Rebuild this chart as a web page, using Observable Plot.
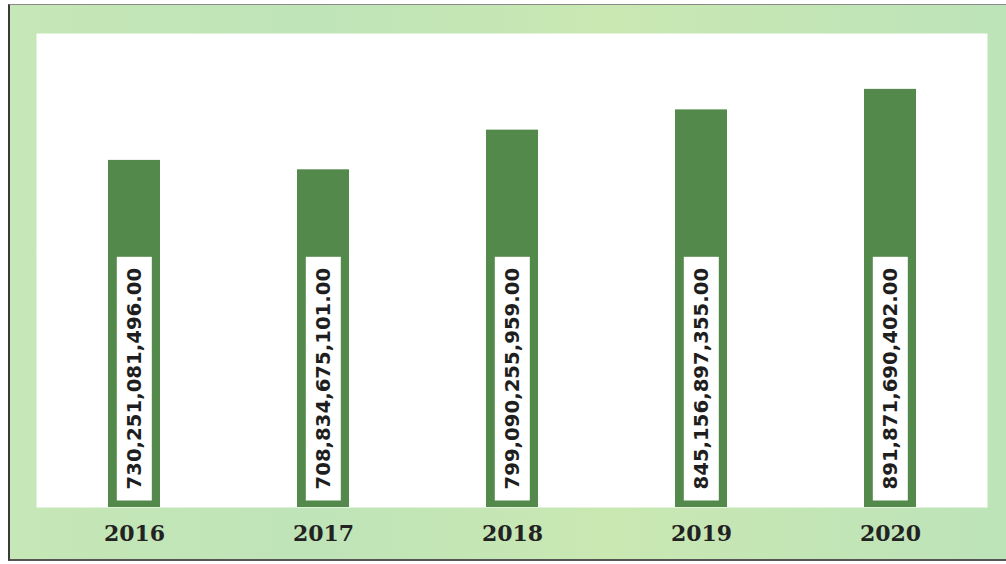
<!DOCTYPE html>
<html>
<head>
<meta charset="utf-8">
<script src="https://cdn.jsdelivr.net/npm/d3@7"></script>
<script src="https://cdn.jsdelivr.net/npm/@observablehq/plot@0.6"></script>
<style>
  html, body { margin: 0; padding: 0; background: #ffffff; }
  #wrap { position: relative; width: 1006px; height: 564px; overflow: hidden; }
  #bg {
    position: absolute; left: 8px; top: 4px; right: 0; bottom: 3px;
    background: linear-gradient(90deg, #c6e7b6 0%, #bfe4b8 30%, #c9e8b2 60%, #bde3b9 100%);
    border-left: 2px solid #3a3a3a; border-top: 1px solid #8a8a8a; border-bottom: 2px solid #555;
  }
  #chart { position: absolute; left: 0; top: 0; }
</style>
</head>
<body>
<div id="wrap"><div id="bg"></div><div id="chart"></div></div>
<script>
const years = ["2016", "2017", "2018", "2019", "2020"];
const values = [730251081496, 708834675101, 799090255959, 845156897355, 891871690402];
const yDomain = [-59.6e9, 1019e9];

const data = years.map((y, i) => ({year: y, value: values[i]}));
const fmt = d3.format(",.2f");

const chart = Plot.plot({
  width: 1006,
  height: 564,
  marginLeft: 36,
  marginRight: 19,
  marginTop: 33,
  marginBottom: 57,
  style: {background: "transparent", overflow: "visible"},
  x: {domain: years, paddingInner: 0.726, paddingOuter: 0.366, label: null},
  y: {domain: yDomain, axis: null},
  marks: [
    Plot.frame({fill: "#ffffff", stroke: "none"}),
    Plot.barY(data, {x: "year", y1: () => yDomain[0], y2: "value", fill: "#53894b"}),
    Plot.text(data, {
      x: "year", frameAnchor: "bottom", dy: -18,
      text: d => fmt(d.value), rotate: -90, textAnchor: "start", lineAnchor: "middle",
      fontSize: 19.7, fontWeight: "bold", fontFamily: "DejaVu Sans", fill: "#1e1e1e",
      className: "vlabel"
    }),
    Plot.axisX({
      tickSize: 0, tickPadding: 18, fontSize: 22, fontWeight: "bold",
      fontFamily: "DejaVu Serif", fill: "#222222", label: null
    })
  ]
});
document.getElementById("chart").appendChild(chart);

// white boxes behind rotated value labels
chart.querySelectorAll("g.vlabel text").forEach(t => {
  const b = t.getBBox();
  const padX = 11, padY = 6;
  const r = document.createElementNS("http://www.w3.org/2000/svg", "rect");
  r.setAttribute("x", b.x - padX);
  r.setAttribute("y", b.y - padY);
  r.setAttribute("width", b.width + 2 * padX);
  r.setAttribute("height", b.height + 2 * padY);
  r.setAttribute("fill", "#ffffff");
  const tr = t.getAttribute("transform");
  if (tr) r.setAttribute("transform", tr);
  t.parentNode.insertBefore(r, t);
});
</script>
</body>
</html>
